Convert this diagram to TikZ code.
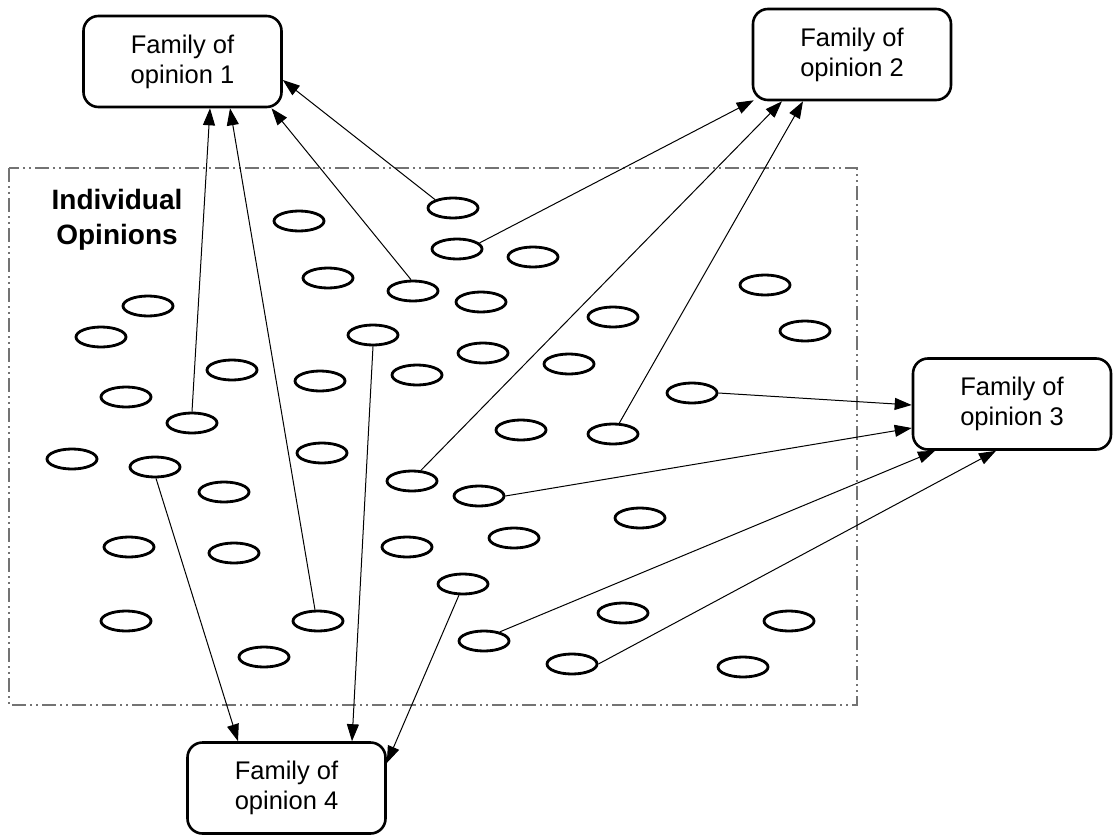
\documentclass[tikz,border=0pt]{standalone}
\usepackage{fontspec}
\setmainfont{Liberation Sans}
\usetikzlibrary{arrows.meta,shapes.geometric,calc}
\begin{document}
\begin{tikzpicture}[x=1pt,y=-1pt,
  famil/.style={draw,line width=2.6pt,rounded corners=15pt,minimum width=198pt,minimum height=91pt,inner sep=0pt,align=center,font=\fontsize{25.5}{30}\selectfont},
  opin/.style={draw,ellipse,line width=2.8pt,minimum width=50pt,minimum height=20pt,inner sep=0pt},
  link/.style={line width=1pt,-{Triangle[length=17pt,width=12pt]}},
  grpbox/.style={draw=black!55,line width=1.3pt,dash pattern=on 14pt off 4pt on 2pt off 4pt on 2pt off 4pt}
]
\useasboundingbox (0,0) rectangle (1113,837);
\draw[grpbox] (9,168) rectangle (857,705);
\node[font=\bfseries\fontsize{28}{35}\selectfont,align=center] (lbl) at (117,219.5) {Individual\\Opinions};

\node[famil] (b1) at (182.5,61.5) {Family of\\opinion 1};
\node[famil] (b2) at (852,54.5) {Family of\\opinion 2};
\node[famil] (b3) at (1012,404) {Family of\\opinion 3};
\node[famil] (b4) at (286.5,788) {Family of\\opinion 4};

\node[opin] (e1) at (453,208) {};
\node[opin] (e2) at (299,221) {};
\node[opin] (e3) at (457,249) {};
\node[opin] (e4) at (533,257) {};
\node[opin] (e5) at (328,278) {};
\node[opin] (e6) at (413,291) {};
\node[opin] (e7) at (481,302) {};
\node[opin] (e8) at (148,306) {};
\node[opin] (e9) at (101,337) {};
\node[opin] (e10) at (373,335) {};
\node[opin] (e11) at (613,317) {};
\node[opin] (e12) at (765,285) {};
\node[opin] (e13) at (805,331) {};
\node[opin] (e14) at (483,353) {};
\node[opin] (e15) at (569,364) {};
\node[opin] (e16) at (232,370) {};
\node[opin] (e17) at (320,381) {};
\node[opin] (e18) at (417,375) {};
\node[opin] (e19) at (126,397) {};
\node[opin] (e20) at (192,423) {};
\node[opin] (e21) at (692,393) {};
\node[opin] (e22) at (521,430) {};
\node[opin] (e23) at (613,434) {};
\node[opin] (e24) at (72,459) {};
\node[opin] (e25) at (155,467) {};
\node[opin] (e26) at (322,453) {};
\node[opin] (e27) at (412,481) {};
\node[opin] (e28) at (224,492) {};
\node[opin] (e29) at (479,496) {};
\node[opin] (e30) at (640,518) {};
\node[opin] (e31) at (129,547) {};
\node[opin] (e32) at (234,553) {};
\node[opin] (e33) at (407,547) {};
\node[opin] (e34) at (514,538) {};
\node[opin] (e35) at (463,584) {};
\node[opin] (e36) at (126,621) {};
\node[opin] (e37) at (318,621) {};
\node[opin] (e38) at (623,613) {};
\node[opin] (e39) at (789,621) {};
\node[opin] (e40) at (484,641) {};
\node[opin] (e41) at (264,657) {};
\node[opin] (e42) at (572,664) {};
\node[opin] (e43) at (743,667) {};

% to family 1
\draw[link] (e20.90) -- ([xshift=27.5pt]b1.south);
\draw[link] (e37.105) -- ([xshift=47.5pt]b1.south);
\draw[link] (e6.100) -- ([xshift=89pt]b1.south);
\draw[link] (e1.155) -- ([yshift=-18.5pt]b1.east);
% to family 2
\draw[link] (e3.15) -- ([xshift=2pt,yshift=1pt]b2.south west);
\draw[link] (e27.50) -- ([xshift=-70pt]b2.south);
\draw[link] (e23.60) -- ([xshift=-49pt]b2.south);
% to family 3
\draw[link] (e21.east) -- ([yshift=-1pt]b3.west);
\draw[link] (e29.east) -- ([yshift=-24pt]b3.west);
\draw[link] (e40.30) -- ([xshift=-77pt]b3.south);
\draw[link] (e42.east) -- ([xshift=-16pt]b3.south);
% to family 4
\draw[link] (e25.275) -- ([xshift=-48.5pt]b4.north);
\draw[link] (e10.south) -- ([xshift=65.5pt]b4.north);
\draw[link] (e35.250) -- ([yshift=25pt]b4.east);
\end{tikzpicture}
\end{document}
